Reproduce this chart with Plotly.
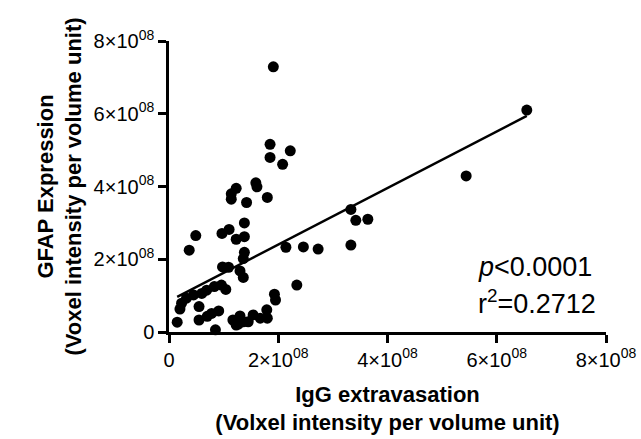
import plotly.graph_objects as go
import numpy as np

# Data in units of 1e8
igg = [1.91, 1.85, 2.22, 1.85, 2.08, 1.59, 1.61, 1.23, 1.14, 1.14, 1.80, 1.42, 3.33, 3.42, 3.64,
       1.38, 0.49, 0.97, 1.10, 1.23, 1.38, 0.37, 2.14, 2.46, 2.73, 3.33, 1.38, 1.36, 0.98, 1.09,
       1.30, 1.36, 2.34, 0.83, 0.96, 1.04, 0.60, 0.69, 0.45, 0.32, 0.23, 0.20, 0.55, 1.93, 1.95,
       1.79, 0.78, 0.91, 0.70, 0.55, 0.15, 0.85, 1.17, 1.30, 1.23, 1.36, 1.54, 1.67, 1.80, 1.45,
       1.27, 6.55, 5.44]
gfap = [7.29, 5.16, 4.98, 4.80, 4.61, 4.10, 3.99, 3.95, 3.80, 3.65, 3.70, 3.56, 3.37, 3.07, 3.10,
        3.00, 2.65, 2.71, 2.82, 2.55, 2.62, 2.25, 2.33, 2.34, 2.28, 2.39, 2.19, 2.02, 1.79, 1.78,
        1.68, 1.50, 1.29, 1.25, 1.29, 1.17, 1.06, 1.15, 1.02, 0.93, 0.79, 0.63, 0.70, 1.04, 0.88,
        0.61, 0.51, 0.58, 0.43, 0.33, 0.27, 0.06, 0.33, 0.44, 0.19, 0.28, 0.47, 0.38, 0.38, 0.28,
        0.22, 6.10, 4.29]
scale = 1e8
fit_slope = 0.777
fit_intercept = 0.85  # in 1e8 units

tick_vals = [0, 2, 4, 6, 8]
tick_text = ["0", "2×10<sup>08</sup>", "4×10<sup>08</sup>", "6×10<sup>08</sup>", "8×10<sup>08</sup>"]

x = np.array(igg) * scale
y = np.array(gfap) * scale
xf = np.array([min(igg), max(igg)])
yf = (fit_intercept + fit_slope * xf) * scale

FONT = "Arial, Liberation Sans, sans-serif"

fig = go.Figure()
fig.add_trace(go.Scatter(x=x, y=y, mode="markers",
                         marker=dict(size=11, color="black"), cliponaxis=False,
                         showlegend=False))
fig.add_trace(go.Scatter(x=xf * scale, y=yf, mode="lines",
                         line=dict(color="black", width=2.5), cliponaxis=False,
                         showlegend=False))

axis_common = dict(showline=True, linecolor="black", linewidth=2.5, ticks="outside",
                   ticklen=8, tickwidth=2.5, tickcolor="black", showgrid=False, zeroline=False,
                   automargin=False,
                   tickfont=dict(family=FONT, size=20, color="black"))

fig.update_layout(
    width=641, height=439,
    margin=dict(l=169, r=35, t=41, b=107),
    plot_bgcolor="white", paper_bgcolor="white",
    xaxis=dict(range=[0, 8e8], tickvals=[v * scale for v in tick_vals], ticktext=tick_text,
               title=dict(text="<b>IgG extravasation<br>(Volxel intensity per volume unit)</b>",
                          font=dict(family=FONT, size=22, color="black"), standoff=17),
               **axis_common),
    yaxis=dict(range=[0, 8e8], tickvals=[v * scale for v in tick_vals], ticktext=tick_text,
               title=dict(text="<b>GFAP Expression<br>(Voxel intensity per volume unit)</b>",
                          font=dict(family=FONT, size=22, color="black"), standoff=6),
               **axis_common),
    annotations=[
        dict(x=5.62e8, y=1.78e8, xref="x", yref="y", xanchor="left", yanchor="middle",
             text="<i>p</i><0.0001", showarrow=False,
             font=dict(family=FONT, size=27, color="black")),
        dict(x=5.62e8, y=0.82e8, xref="x", yref="y", xanchor="left", yanchor="middle",
             text="r<sup>2</sup>=0.2712", showarrow=False,
             font=dict(family=FONT, size=27, color="black")),
    ],
)

fig.write_html("out.html")
